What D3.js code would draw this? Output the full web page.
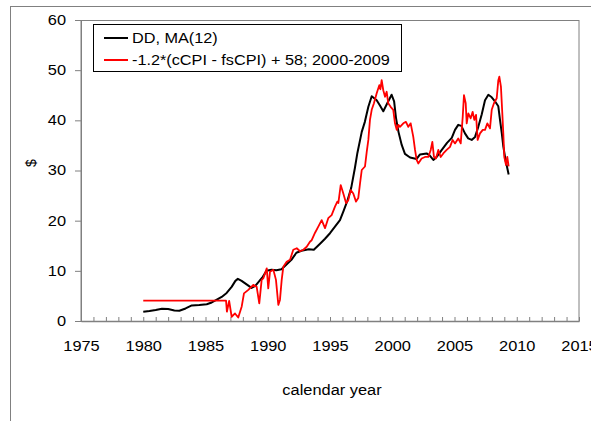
<!DOCTYPE html>
<html>
<head>
<meta charset="utf-8">
<script src="https://cdn.jsdelivr.net/npm/d3@7"></script>
<style>
  body { margin: 0; background: #fff; }
  text { font-family: "Liberation Sans", Arial, sans-serif; }
</style>
</head>
<body>
<svg id="main-svg" width="591" height="421"></svg>
<script>
// DD, MA(12) series
const ddYears = [1980.0, 1980.5, 1981.0, 1981.5, 1982.0, 1982.5, 1982.9, 1983.4, 1983.9, 1984.5,
    1985.1, 1985.5, 1985.8, 1986.3, 1986.7, 1987.1, 1987.4, 1987.6, 1987.9, 1988.3,
    1988.7, 1989.0, 1989.3, 1989.6, 1989.9, 1990.3, 1990.7, 1991.1, 1991.4, 1991.9,
    1992.3, 1992.7, 1993.3, 1993.7, 1994.2, 1994.6, 1995.0, 1995.4, 1995.8, 1996.1,
    1996.4, 1996.7, 1997.0, 1997.2, 1997.55, 1997.8, 1998.08, 1998.35, 1998.75, 1999.0,
    1999.28, 1999.6, 1999.95, 2000.15, 2000.3, 2000.5, 2000.76, 2001.02, 2001.43, 2001.96,
    2002.23, 2002.76, 2003.0, 2003.3, 2003.6, 2003.95, 2004.4, 2004.78, 2005.04, 2005.3,
    2005.55, 2005.84, 2006.1, 2006.38, 2006.65, 2006.91, 2007.19, 2007.45, 2007.72, 2007.99,
    2008.25, 2008.52, 2008.65, 2008.8, 2008.92, 2009.1, 2009.35];
const ddValues = [1.85, 2.0, 2.2, 2.45, 2.4, 2.1, 2.05, 2.5, 3.1, 3.2,
    3.35, 3.7, 4.1, 4.8, 5.6, 6.8, 8.0, 8.4, 8.0, 7.3,
    6.6, 7.0, 7.9, 8.8, 10.0, 10.2, 10.1, 10.3, 11.0, 12.2,
    13.6, 14.0, 14.3, 14.2, 15.4, 16.4, 17.5, 18.8, 20.1, 22.0,
    24.0, 26.5, 30.5, 33.5, 37.7, 39.7, 42.7, 44.8, 44.0, 43.0,
    41.8, 43.4, 45.1, 43.8, 40.5, 37.7, 35.1, 33.3, 32.6, 32.3,
    33.2, 33.4, 33.0, 32.1, 32.8, 34.0, 35.5, 36.5, 38.1, 39.1,
    38.9, 37.4, 36.4, 36.1, 36.7, 38.7, 41.2, 44.0, 45.1, 44.6,
    43.8, 42.8, 40.2, 37.4, 34.8, 32.1, 29.2];

// -1.2*(cCPI - fsCPI) + 58 series
const cpiYears = [1980.0, 1986.65, 1986.72, 1986.9, 1987.1, 1987.37, 1987.63, 1987.91, 1988.09, 1988.44,
    1988.84, 1989.11, 1989.32, 1989.51, 1989.64, 1989.78, 1989.92, 1990.04, 1990.18, 1990.45,
    1990.66, 1990.85, 1990.98, 1991.12, 1991.25, 1991.52, 1991.79, 1992.05, 1992.33, 1992.59,
    1992.86, 1993.13, 1993.39, 1993.53, 1993.8, 1994.06, 1994.33, 1994.6, 1994.86, 1995.13,
    1995.4, 1995.59, 1995.67, 1995.86, 1996.07, 1996.29, 1996.47, 1996.66, 1996.87, 1997.09,
    1997.27, 1997.41, 1997.55, 1997.81, 1997.95, 1998.08, 1998.21, 1998.35, 1998.53, 1998.75,
    1998.96, 1999.05, 1999.15, 1999.28, 1999.42, 1999.55, 1999.68, 1999.87, 2000.08, 2000.22,
    2000.36, 2000.49, 2000.62, 2000.89, 2001.1, 2001.29, 2001.48, 2001.69, 2001.83, 2001.96,
    2002.09, 2002.36, 2002.63, 2002.9, 2003.09, 2003.22, 2003.35, 2003.51, 2003.7, 2003.89,
    2004.1, 2004.37, 2004.64, 2004.85, 2005.04, 2005.3, 2005.5, 2005.66, 2005.76, 2005.9,
    2005.98, 2006.11, 2006.3, 2006.46, 2006.59, 2006.73, 2006.86, 2007.05, 2007.27, 2007.45,
    2007.64, 2007.85, 2007.99, 2008.17, 2008.39, 2008.52, 2008.6, 2008.73, 2008.84, 2008.92,
    2009.0, 2009.14, 2009.24, 2009.35];
const cpiValues = [4.05, 4.05, 1.85, 4.0, 0.85, 1.5, 0.7, 2.9, 5.5, 6.2,
    7.2, 6.8, 3.5, 8.2, 8.5, 9.5, 10.5, 6.5, 9.8, 10.2,
    8.2, 3.2, 4.2, 8.2, 10.8, 11.8, 12.2, 14.2, 14.5, 13.9,
    14.2, 14.8, 15.8, 16.1, 17.6, 18.8, 20.1, 18.5, 20.5, 21.1,
    22.8, 23.8, 23.5, 27.1, 25.4, 23.5, 24.1, 26.1, 25.4, 23.8,
    24.5, 27.4, 30.1, 30.8, 33.7, 36.1, 40.1, 42.1, 43.4, 45.4,
    47.0, 46.2, 48.0, 46.0, 44.7, 45.7, 43.4, 42.7, 42.1, 39.4,
    38.1, 39.1, 38.7, 39.4, 39.7, 38.7, 39.4, 36.7, 34.1, 32.1,
    31.4, 32.4, 32.7, 32.7, 34.1, 35.7, 32.7, 32.4, 34.1, 32.7,
    33.4, 34.1, 34.7, 36.1, 35.4, 36.4, 35.4, 40.7, 45.0, 43.4,
    39.4, 41.4, 40.4, 41.7, 40.1, 41.1, 36.1, 37.4, 38.1, 38.1,
    39.4, 38.4, 42.1, 43.4, 44.4, 48.0, 48.7, 46.7, 41.4, 37.4,
    32.7, 31.1, 32.7, 30.8];

const xTicks = [1975, 1980, 1985, 1990, 1995, 2000, 2005, 2010, 2015];
const yTicks = [0, 10, 20, 30, 40, 50, 60];
const legendLabels = ['DD, MA(12)', '-1.2*(cCPI - fsCPI) + 58; 2000-2009'];
const seriesColors = ['#000000', '#ff0000'];

const svg = d3.select('#main-svg');

// text in the original is a bit wider than plain Arial
function stretch(sel, k) {
    sel.each(function () {
        const w = this.getComputedTextLength();
        d3.select(this).attr('textLength', w * k).attr('lengthAdjust', 'spacingAndGlyphs');
    });
}

// outer chart frame
svg.append('rect')
    .attr('x', 10.5).attr('y', 6.5)
    .attr('width', 600).attr('height', 440)
    .attr('fill', 'none').attr('stroke', '#808080').attr('stroke-width', 1);

const plotLeft = 81, plotTop = 20, plotRight = 579, plotBottom = 321;

const x = d3.scaleLinear().domain([1975, 2015]).range([plotLeft, plotRight]);
const y = d3.scaleLinear().domain([0, 60]).range([plotBottom, plotTop]);

// plot area border
svg.append('rect')
    .attr('x', plotLeft).attr('y', plotTop + 0.5)
    .attr('width', plotRight - plotLeft).attr('height', plotBottom - plotTop)
    .attr('fill', 'none').attr('stroke', '#808080').attr('stroke-width', 1);

// y axis
const yAxis = svg.append('g')
    .attr('transform', `translate(${plotLeft},0)`)
    .call(d3.axisLeft(y).tickValues(yTicks).tickSize(6).tickPadding(9));
yAxis.select('.domain').attr('stroke', '#808080');
yAxis.selectAll('line').attr('stroke', '#808080');
yAxis.selectAll('text').attr('font-size', 14).attr('fill', '#000').call(stretch, 1.17);

// x axis minor ticks (inside)
svg.append('g')
    .selectAll('line')
    .data(d3.range(1975, 2016))
    .enter()
    .append('line')
    .attr('x1', d => x(d) + 0.5).attr('x2', d => x(d) + 0.5)
    .attr('y1', plotBottom).attr('y2', plotBottom - 4)
    .attr('stroke', '#808080');

const xAxis = svg.append('g')
    .attr('transform', `translate(0,${plotBottom})`)
    .call(d3.axisBottom(x).tickValues(xTicks).tickFormat(d3.format('d')).tickSize(0).tickPadding(20));
xAxis.select('.domain').attr('stroke', '#808080').attr('stroke-width', 1.5);
xAxis.selectAll('text').attr('font-size', 14).attr('fill', '#000').call(stretch, 1.17);

// axis titles
svg.append('text')
    .attr('x', 332).attr('y', 395)
    .attr('text-anchor', 'middle')
    .attr('font-size', 14)
    .text('calendar year')
    .call(stretch, 1.17);

svg.append('text')
    .attr('transform', 'translate(36,163) rotate(-90)')
    .attr('text-anchor', 'middle')
    .attr('font-size', 14)
    .text('$');

// series
const line = d3.line()
    .x(d => x(d[0]))
    .y(d => y(d[1]));

const plot = svg.append('g');

plot.append('path')
    .datum(ddYears.map((d, i) => [d, ddValues[i]]))
    .attr('d', line)
    .attr('fill', 'none')
    .attr('stroke', seriesColors[0])
    .attr('stroke-width', 2)
    .attr('stroke-linejoin', 'round');

plot.append('path')
    .datum(cpiYears.map((d, i) => [d, cpiValues[i]]))
    .attr('d', line)
    .attr('fill', 'none')
    .attr('stroke', seriesColors[1])
    .attr('stroke-width', 1.8)
    .attr('stroke-linejoin', 'round');

// legend
const legend = svg.append('g');
legend.append('rect')
    .attr('x', 93.5).attr('y', 24.5)
    .attr('width', 308).attr('height', 47)
    .attr('fill', '#fff').attr('stroke', '#000').attr('stroke-width', 1);

legend.selectAll('.item')
    .data(legendLabels)
    .enter()
    .append('g')
    .attr('class', 'item')
    .attr('transform', (d, i) => `translate(104, ${38 + i * 22})`)
    .each(function (d, i) {
        const g = d3.select(this);
        g.append('line')
            .attr('x1', 0).attr('x2', 24)
            .attr('stroke', seriesColors[i]).attr('stroke-width', 2);
        g.append('text')
            .attr('x', 28).attr('y', 5)
            .attr('font-size', 14)
            .text(d)
            .call(stretch, 1.16);
    });
</script>
</body>
</html>
